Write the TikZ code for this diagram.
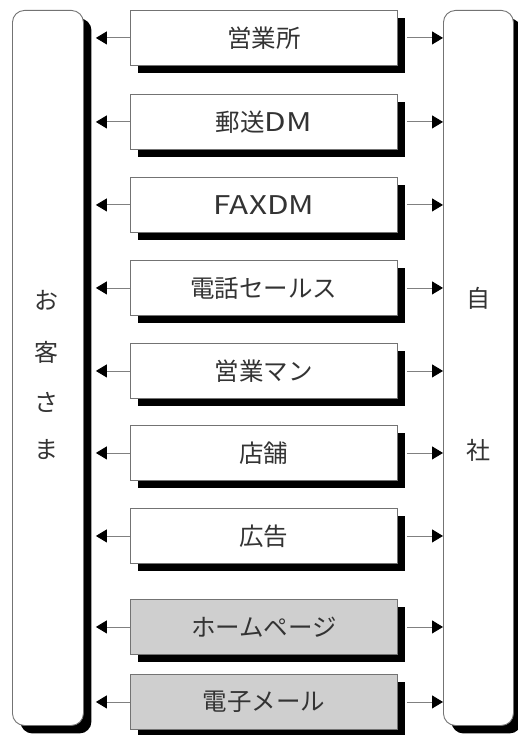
\documentclass[tikz,border=0pt]{standalone}
\usepackage{fontspec}
\setmainfont{Noto Sans CJK JP}
\usetikzlibrary{arrows.meta,shadows,calc}
\newcommand{\widelat}[1]{\scalebox{1.28}[1.05]{#1}}
\begin{document}
\begin{tikzpicture}[x=1pt,y=-1pt,
  shad/.style={drop shadow={shadow xshift=8pt,shadow yshift=-8pt,opacity=1,fill=black}},
  shbox/.style={shad,draw=black!55,line width=0.9pt,fill=white,minimum width=267pt,minimum height=55pt,inner sep=0pt,anchor=north west,font=\fontsize{24.5}{28}\selectfont,text=black!80},
  webbox/.style={shbox,fill=black!19},
  pillar/.style={shad,draw=black!55,line width=0.9pt,fill=white,rounded corners=12pt,inner sep=0pt,anchor=north west,minimum height=715pt},
  lbl/.style={font=\fontsize{24}{28}\selectfont,text=black!80,inner sep=0pt},
  arr/.style={draw=black!50,line width=0.9pt,-{Triangle[length=11pt,width=13pt,fill=black,color=black]}}]
\useasboundingbox (0,0) rectangle (518,735);
\node[pillar,minimum width=71pt] (cust) at (12,10) {};
\node[pillar,minimum width=70pt] (self) at (443,10) {};
\node[lbl] (c1) at (46,300) {お};
\node[lbl] (c2) at (46,352) {客};
\node[lbl] (c3) at (46,402) {さ};
\node[lbl] (c4) at (46,450) {ま};
\node[lbl] (s1) at (478,298) {自};
\node[lbl] (s2) at (478,450) {社};
\node[shbox] (b1) at (130,10) {営業所};
\node[shbox] (b2) at (130,94) {郵送\widelat{DM}};
\node[shbox] (b3) at (130,177) {\widelat{FAXDM}};
\node[shbox] (b4) at (130,260) {電話セールス};
\node[shbox] (b5) at (130,343) {営業マン};
\node[shbox] (b6) at (130,425) {店舗};
\node[shbox] (b7) at (130,508) {広告};
\node[webbox] (b8) at (130,599) {ホームページ};
\node[webbox] (b9) at (130,674) {電子メール};
\foreach \b in {b1,b2,b3,b4,b5,b6,b7,b8,b9}{
  \draw[arr] (\b.west) -- ([xshift=12pt]cust.east |- \b.west);
  \draw[arr] ([xshift=9pt]\b.east) -- (self.west |- \b.east);
}
\end{tikzpicture}
\end{document}
